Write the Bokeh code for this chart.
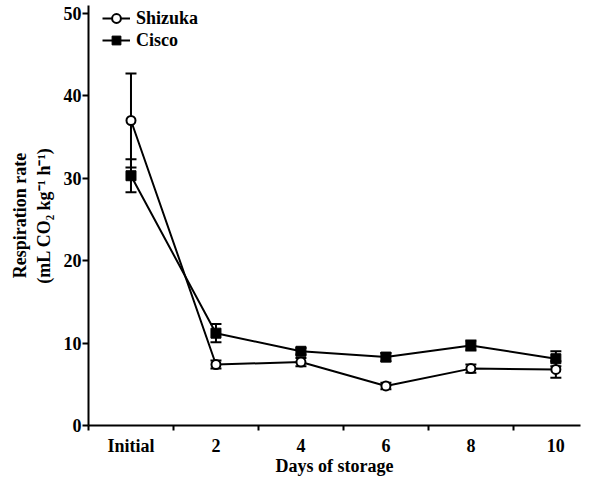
from bokeh.plotting import figure
from bokeh.models import ColumnDataSource, FixedTicker, Whisker, TeeHead, Legend, LegendItem, Range1d
from bokeh.embed import file_html
from bokeh.resources import INLINE

categories = ["Initial", "2", "4", "6", "8", "10"]
shizuka = [37.0, 7.4, 7.7, 4.8, 6.9, 6.8]
shizuka_err = [5.7, 0.5, 0.5, 0.4, 0.5, 1.0]
cisco = [30.3, 11.2, 9.0, 8.3, 9.7, 8.1]
cisco_err = [2.0, 1.1, 0.4, 0.5, 0.6, 0.9]
y_ticks = [0, 10, 20, 30, 40, 50]

FONT = "Liberation Serif"
FS = "18px"
xpos = list(range(len(categories)))

s_src = ColumnDataSource(dict(x=xpos, y=shizuka,
                              lo=[v - e for v, e in zip(shizuka, shizuka_err)],
                              hi=[v + e for v, e in zip(shizuka, shizuka_err)]))
c_src = ColumnDataSource(dict(x=xpos, y=cisco,
                              lo=[v - e for v, e in zip(cisco, cisco_err)],
                              hi=[v + e for v, e in zip(cisco, cisco_err)]))

p = figure(width=587, height=478, output_backend="svg", toolbar_location=None,
           x_range=Range1d(-0.5, 5.29), y_range=Range1d(0, 50.95),
           min_border_left=88, min_border_right=7, min_border_top=5, min_border_bottom=40)
p.outline_line_color = None
p.xgrid.visible = False
p.ygrid.visible = False
p.background_fill_color = "white"
p.border_fill_color = "white"

# error bars
for src in (c_src, s_src):
    w = Whisker(source=src, base="x", lower="lo", upper="hi", line_color="black", line_width=2,
                upper_head=TeeHead(size=11, line_width=2, line_color="black"),
                lower_head=TeeHead(size=11, line_width=2, line_color="black"))
    p.add_layout(w)

cl = p.line("x", "y", source=c_src, line_color="black", line_width=2)
sl = p.line("x", "y", source=s_src, line_color="black", line_width=2)
cm = p.scatter("x", "y", source=c_src, marker="square", size=10, fill_color="black", line_color="black", line_width=1)
sm = p.scatter("x", "y", source=s_src, marker="circle", size=9, fill_color="white", line_color="black", line_width=2)

legend = Legend(items=[LegendItem(label="Shizuka", renderers=[sl, sm]),
                       LegendItem(label="Cisco", renderers=[cl, cm])],
                location=(14, 374), margin=0, padding=0, spacing=0,
                glyph_width=28, glyph_height=22, label_height=22, label_standoff=6,
                border_line_color=None, background_fill_alpha=0,
                label_text_font=FONT, label_text_font_size=FS, label_text_font_style="bold",
                label_text_color="black")
p.add_layout(legend)

# x axis
p.xaxis.ticker = FixedTicker(ticks=xpos, minor_ticks=[x - 0.5 for x in xpos])
p.xaxis.major_label_overrides = {i: c for i, c in enumerate(categories)}
p.xaxis.major_tick_out = 0
p.xaxis.major_tick_in = 0
p.xaxis.minor_tick_out = 5
p.xaxis.minor_tick_in = 0
p.xaxis.minor_tick_line_width = 2
p.xaxis.axis_label = "Days of storage"

# y axis
p.yaxis.ticker = FixedTicker(ticks=y_ticks, minor_ticks=[])
p.yaxis.major_tick_out = 6
p.yaxis.major_tick_in = 0
p.yaxis.major_label_standoff = 1
p.yaxis.axis_label = "Respiration rate\n(mL CO\u2082 kg\u207b\u00b9 h\u207b\u00b9)"

for ax in (p.xaxis, p.yaxis):
    ax.axis_line_width = 2
    ax.axis_line_color = "black"
    ax.major_tick_line_width = 2
    ax.major_tick_line_color = "black"
    ax.minor_tick_line_color = "black"
    ax.major_label_text_font = FONT
    ax.major_label_text_font_size = FS
    ax.major_label_text_font_style = "bold"
    ax.major_label_text_color = "black"
    ax.axis_label_text_font = FONT
    ax.axis_label_text_font_size = FS
    ax.axis_label_text_font_style = "bold"
    ax.axis_label_text_color = "black"

p.xaxis.major_label_standoff = 5
p.xaxis.axis_label_standoff = -3
p.yaxis.axis_label_standoff = 7

open("out.html", "w").write(file_html(p, INLINE))
